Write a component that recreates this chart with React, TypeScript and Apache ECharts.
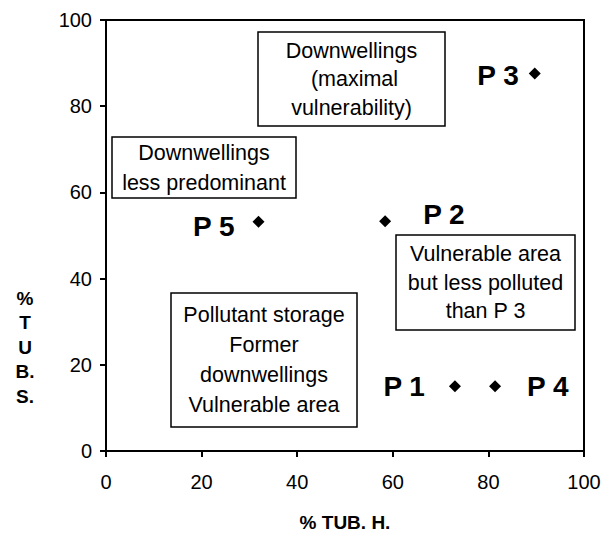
import React, { useEffect, useRef } from "react";
import * as echarts from "echarts";

const pointNames = ["P 1", "P 2", "P 3", "P 4", "P 5"];
const tubH = [73.0, 58.4, 89.7, 81.4, 31.9];
const tubS = [15.0, 53.3, 87.6, 15.0, 53.2];
const xTicks = [0, 20, 40, 60, 80, 100];
const yTicks = [0, 20, 40, 60, 80, 100];

const boxTexts = [
  ["Downwellings", " (maximal", "vulnerability)"],
  ["Downwellings", "less predominant"],
  ["Vulnerable area", "but less polluted", "than P 3"],
  ["Pollutant storage", "Former", "downwellings", "Vulnerable area"],
];

const FONT = "Arial, 'Liberation Sans', sans-serif";

export default function App() {
  const ref = useRef<HTMLDivElement>(null);
  useEffect(() => {
    document.body.style.margin = "0";
    const chart = echarts.init(ref.current!, undefined, { renderer: "svg" });

    const labelCfg = [
      { position: "left", distance: 24 },
      { position: "right", distance: 32, offset: [0, -7] },
      { position: "left", distance: 10, offset: [0, 2] },
      { position: "right", distance: 26 },
      { position: "left", distance: 18, offset: [0, 5] },
    ];

    const data = tubH.map((x, i) => ({
      value: [x, tubS[i]],
      name: pointNames[i],
      label: {
        show: true,
        formatter: pointNames[i],
        ...labelCfg[i],
      },
    }));

    const boxes = [
      { x: 258, y: 32, w: 187, h: 94, lh: 28.5 },
      { x: 112, y: 137, w: 184, h: 61, lh: 30 },
      { x: 396, y: 235, w: 179, h: 95, lh: 28.5 },
      { x: 171, y: 293, w: 186, h: 134, lh: 30 },
    ];

    const graphic: any[] = [];
    boxes.forEach((b, i) => {
      const lines = boxTexts[i];
      const textH = lines.length * b.lh;
      graphic.push({
        type: "rect",
        shape: { x: b.x, y: b.y, width: b.w, height: b.h },
        style: { fill: "#fff", stroke: "#000", lineWidth: 1.5 },
        z: 10,
      });
      graphic.push({
        type: "text",
        x: b.x + b.w / 2,
        y: b.y + (b.h - textH) / 2,
        style: {
          text: lines.join("\n"),
          align: "center",
          verticalAlign: "top",
          font: `21.5px ${FONT}`,
          lineHeight: b.lh,
          fill: "#000",
        },
        z: 11,
      });
    });
    graphic.push({
      type: "text",
      x: 25,
      y: 286,
      style: {
        text: "%\nT\nU\nB.\nS.",
        align: "center",
        verticalAlign: "top",
        font: `bold 19px ${FONT}`,
        lineHeight: 24.5,
        fill: "#000",
      },
    });

    chart.setOption({
      animation: false,
      textStyle: { fontFamily: FONT },
      grid: {
        left: 106,
        right: 23,
        top: 20,
        bottom: 91,
        show: true,
        borderColor: "#000",
        borderWidth: 2,
        backgroundColor: "transparent",
      },
      xAxis: {
        type: "value",
        min: xTicks[0],
        max: xTicks[xTicks.length - 1],
        interval: 20,
        name: "% TUB. H.",
        nameLocation: "middle",
        nameGap: 62,
        nameTextStyle: { fontWeight: "bold", fontSize: 19, color: "#000", fontFamily: FONT },
        axisLine: { lineStyle: { color: "#000", width: 2 } },
        axisTick: { show: true, length: 6, lineStyle: { color: "#000", width: 2 } },
        axisLabel: { fontSize: 20, color: "#000", margin: 21, fontFamily: FONT },
        splitLine: { show: false },
      },
      yAxis: {
        type: "value",
        min: yTicks[0],
        max: yTicks[yTicks.length - 1],
        interval: 20,
        axisLine: { show: true, lineStyle: { color: "#000", width: 2 } },
        axisTick: { show: true, length: 6, lineStyle: { color: "#000", width: 2 } },
        axisLabel: { fontSize: 20, color: "#000", margin: 14, fontFamily: FONT },
        splitLine: { show: false },
      },
      series: [
        {
          type: "scatter",
          symbol: "diamond",
          symbolSize: 12,
          itemStyle: { color: "#000", opacity: 1 },
          label: {
            fontSize: 28,
            fontWeight: "bold",
            color: "#000",
            fontFamily: FONT,
          },
          data,
          z: 20,
        },
      ],
      graphic,
    });
    return () => chart.dispose();
  }, []);
  return <div ref={ref} style={{ width: 607, height: 542 }} />;
}
